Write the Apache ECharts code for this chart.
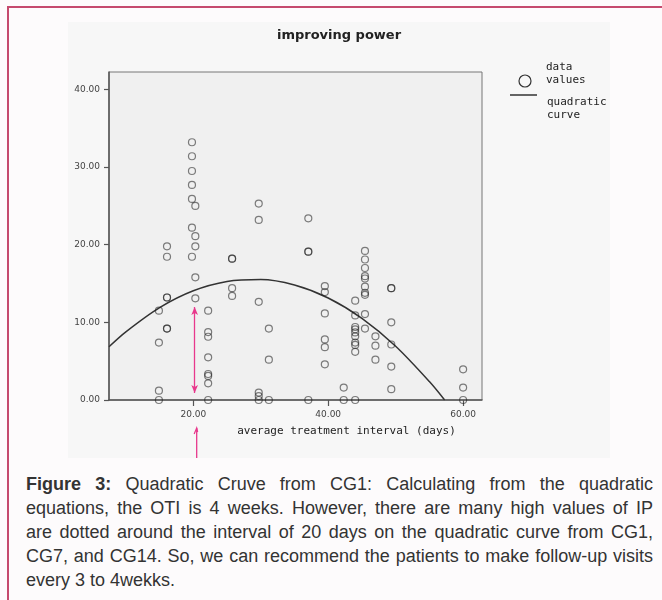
<!DOCTYPE html>
<html><head><meta charset="utf-8">
<script src="https://cdn.jsdelivr.net/npm/echarts@6/dist/echarts.min.js"></script>
<style>
html,body{margin:0;padding:0;background:#fdfbfc;width:662px;height:600px;overflow:hidden;}
#frame{position:absolute;left:7px;top:6px;width:720px;height:720px;border-left:2px solid #c54a6e;border-top:2px solid #c54a6e;}
#chart{position:absolute;left:68px;top:22px;width:542px;height:436px;}
#caption{position:absolute;left:26px;top:472px;width:627px;font-family:'Liberation Sans',Arial,sans-serif;font-size:18px;line-height:24px;color:#333;}
#caption .j{text-align:justify;text-align-last:justify;white-space:nowrap;}
</style></head>
<body>
<div id="frame"></div>
<div id="chart"></div>
<div id="caption">
<div class="j"><b>Figure 3:</b> Quadratic Cruve from CG1: Calculating from the quadratic</div>
<div class="j">equations, the OTI is 4 weeks. However, there are many high values of IP</div>
<div class="j">are dotted around the interval of 20 days on the quadratic curve from CG1,</div>
<div class="j">CG7, and CG14. So, we can recommend the patients to make follow-up visits</div>
<div>every 3 to 4wekks.</div>
</div>
<script>
// Data values (average treatment interval in days, improving power)
const pointsX = [
  14.9,14.9,14.9,14.9,
  16.1,16.1,16.1,16.1,16.1,16.1,
  19.8,19.8,19.8,19.8,19.8,19.8,19.8,
  20.3,20.3,20.3,20.3,20.3,
  22.2,22.2,22.2,22.2,22.2,22.2,22.2,22.2,
  25.75,25.75,25.75,25.75,
  29.7,29.7,29.7,29.7,29.7,29.7,
  31.2,31.2,31.2,
  37.05,37.05,37.05,37.05,
  39.5,39.5,39.5,39.5,39.5,39.5,
  42.3,42.3,
  44.0,44.0,44.0,44.0,44.0,44.0,44.0,44.0,44.0,44.0,
  45.45,45.45,45.45,45.45,45.45,45.45,45.45,45.45,45.45,45.45,
  47.0,47.0,47.0,
  49.35,49.35,49.35,49.35,49.35,49.35,
  60.0,60.0,60.0
];
const pointsY = [
  11.5,7.4,1.2,0,
  19.8,18.45,13.2,13.2,9.2,9.2,
  33.2,31.4,29.5,27.7,25.9,22.2,18.45,
  25.0,21.1,19.8,15.8,13.1,
  11.5,8.75,8.15,5.5,3.35,3.1,2.15,0,
  18.2,18.2,14.4,13.4,
  25.3,23.2,12.65,0.95,0.5,0,
  9.2,5.2,0,
  23.4,19.1,19.1,0,
  14.67,13.9,11.15,7.8,6.8,4.6,
  1.6,0,
  12.8,10.9,9.4,9.1,8.7,8.2,7.4,7.1,6.2,0,
  19.2,18.1,17.0,15.95,15.65,14.6,13.8,13.55,11.07,9.2,
  8.2,7.0,5.2,
  14.4,14.4,10.0,7.15,4.3,1.4,
  3.95,1.6,0
];
// Quadratic curve
const curveX = [7.5, 10, 15, 20, 25, 30, 35, 40, 45, 50, 55, 57.26];
const curveY = [6.86, 8.78, 11.90, 14.07, 15.27, 15.52, 14.81, 13.14, 10.51, 6.92, 2.37, 0];
// Axis ticks
const xTicks = [20, 40, 60];
const yTicks = [0, 10, 20, 30, 40];
// Legend entries
const legendNames = ['data\nvalues', 'quadratic\ncurve'];
// Annotation arrow (pink)
const arrowX = 20.2;
const arrowY = [11.97, 0.9];

const chart = echarts.init(document.getElementById('chart'), null, {renderer: 'canvas'});
const tickFont = {fontFamily: 'DejaVu Sans', fontSize: 9, color: '#444'};
const monoFont = 'DejaVu Sans Mono';
chart.setOption({
  animation: false,
  backgroundColor: '#f7f7f7',
  title: {
    text: 'improving power', left: 'center', top: 2,
    textStyle: {fontFamily: 'DejaVu Sans', fontSize: 13, fontWeight: 'bold', color: '#222'}
  },
  grid: {left: 41, top: 50, right: 128, bottom: 58, show: true, backgroundColor: '#f0f0f0', borderColor: '#777', borderWidth: 1},
  xAxis: {
    type: 'value', min: 7.5, max: 62.8,
    axisLine: {lineStyle: {color: '#555', width: 1.5}},
    axisTick: {show: true, customValues: xTicks, length: 6, lineStyle: {color: '#555', width: 1.2}},
    axisLabel: Object.assign({customValues: xTicks, formatter: v => Number(v).toFixed(2), margin: 10}, tickFont),
    splitLine: {show: false},
    name: 'average treatment interval (days)', nameLocation: 'middle', nameGap: 26,
    nameTextStyle: {fontFamily: monoFont, fontSize: 11, color: '#222', padding: [0, 0, 0, 102]}
  },
  yAxis: {
    type: 'value', min: 0, max: 42.25,
    axisLine: {show: true, lineStyle: {color: '#555', width: 1.5}},
    axisTick: {show: true, customValues: yTicks, length: 5, lineStyle: {color: '#555', width: 1.2}},
    axisLabel: Object.assign({customValues: yTicks, formatter: v => Number(v).toFixed(2), margin: 9}, tickFont),
    splitLine: {show: false}
  },
  series: [
    {
      name: 'data values', type: 'scatter', symbol: 'circle', symbolSize: 7,
      data: pointsX.map((x, i) => [x, pointsY[i]]),
      itemStyle: {color: 'rgba(0,0,0,0)', borderColor: 'rgba(30,30,30,0.7)', borderWidth: 1.2},
      markLine: {
        silent: true, symbol: ['arrow', 'arrow'], symbolSize: [5, 8],
        label: {show: false},
        lineStyle: {color: '#e8388c', width: 1.3, type: 'solid'},
        data: [[{coord: [arrowX, arrowY[0]]}, {coord: [arrowX, arrowY[1]]}]]
      },
      z: 3
    },
    {
      name: 'quadratic curve', type: 'line', symbol: 'none', smooth: 0.3,
      data: curveX.map((x, i) => [x, curveY[i]]),
      lineStyle: {color: '#333', width: 1.5},
      z: 2
    }
  ]
});
// lower pink arrow below the axis, aligned with x = 20; legend drawn as graphics
const px = chart.convertToPixel({gridIndex: 0}, [arrowX + 0.3, 0])[0];
const legText = {fontFamily: monoFont, fontSize: 11, fill: '#222', lineHeight: 13.5, verticalAlign: 'top'};
chart.setOption({
  graphic: [
    {type: 'line', shape: {x1: px, y1: 406, x2: px, y2: 436}, style: {stroke: '#e8388c', lineWidth: 1.3}},
    {type: 'polyline', shape: {points: [[px - 2.5, 412], [px, 406], [px + 1, 410]]}, style: {stroke: '#e8388c', lineWidth: 1.2, fill: null}},
    {type: 'circle', shape: {cx: 457, cy: 59, r: 6}, style: {stroke: '#333', lineWidth: 1.2, fill: 'none'}},
    {type: 'text', left: 478, top: 38, style: Object.assign({text: legendNames[0]}, legText)},
    {type: 'line', shape: {x1: 442, y1: 73, x2: 469, y2: 73}, style: {stroke: '#333', lineWidth: 1.5}},
    {type: 'text', left: 479, top: 73, style: Object.assign({text: legendNames[1]}, legText)}
  ]
});
</script>
</body></html>
